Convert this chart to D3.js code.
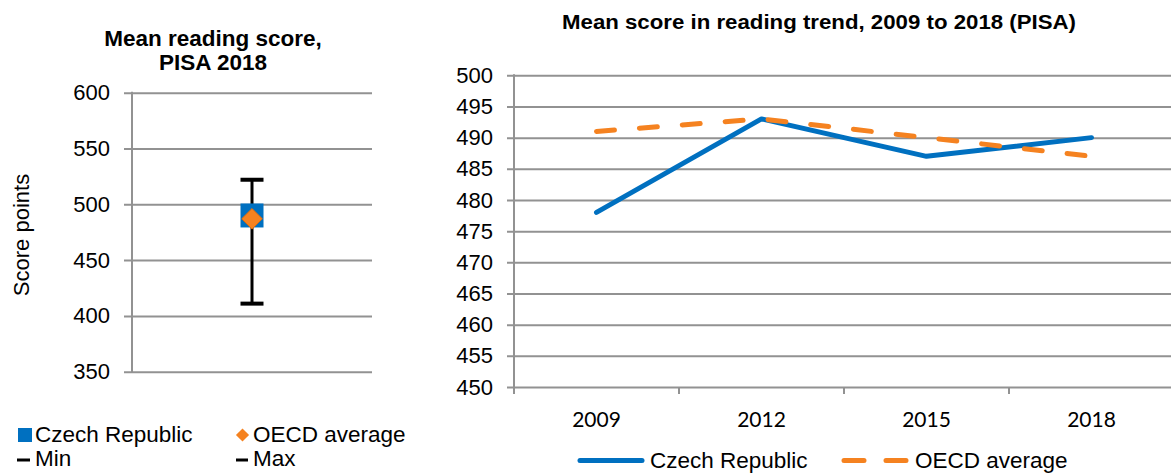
<!DOCTYPE html>
<html>
<head>
<meta charset="utf-8">
<script src="https://cdn.jsdelivr.net/npm/d3@7"></script>
<style>
  body { margin: 0; background: #fff; }
  text { font-family: "Liberation Sans", Arial, sans-serif; fill: #000; }
  .tick text { font-size: 22px; }
</style>
</head>
<body>
<svg id="vis" width="1171" height="473"></svg>
<script>
// data
var pisaLabel = ["2018"];
var czech2018 = [490];
var oecd2018 = [487];
var minScore = [411];
var maxScore = [522];
var leftTicks = [350, 400, 450, 500, 550, 600];

var years = ["2009", "2012", "2015", "2018"];
var czechTrend = [478, 493, 487, 490];
var oecdTrend = [491, 493, 490, 487];
var rightTicks = [450, 455, 460, 465, 470, 475, 480, 485, 490, 495, 500];

var blue = "#0070C0",
    orange = "#F58220",
    grid = "#929292";

var svg = d3.select("#vis");

// ---------------- left panel ----------------
var l = {x0: 132, x1: 372, gridLeft: 124, top: 92.7, bottom: 371.7};

var lx = d3.scaleBand().domain(pisaLabel).range([l.x0, l.x1]);
var ly = d3.scaleLinear().domain([350, 600]).range([l.bottom, l.top]);

svg.append("text")
    .attr("x", 213).attr("y", 46)
    .attr("text-anchor", "middle")
    .style("font-size", "22.5px").style("font-weight", "bold")
    .text("Mean reading score,");
svg.append("text")
    .attr("x", 213).attr("y", 70)
    .attr("text-anchor", "middle")
    .style("font-size", "22.5px").style("font-weight", "bold")
    .text("PISA 2018");

var lAxis = svg.append("g")
    .attr("transform", "translate(" + l.gridLeft + ",0)")
    .call(d3.axisLeft(ly).tickValues(leftTicks)
        .tickSizeInner(-(l.x1 - l.gridLeft)).tickSizeOuter(0).tickPadding(14));
lAxis.select(".domain").remove();
lAxis.selectAll(".tick line").attr("stroke", grid).attr("stroke-width", 2);

svg.append("line")
    .attr("x1", l.x0).attr("x2", l.x0)
    .attr("y1", ly(600) - 1).attr("y2", ly(350) + 1)
    .attr("stroke", grid).attr("stroke-width", 2);

svg.append("text")
    .attr("transform", "translate(29,235) rotate(-90)")
    .attr("text-anchor", "middle")
    .style("font-size", "22px")
    .text("Score points");

var cx = lx(pisaLabel[0]) + lx.bandwidth() / 2;

// whisker min-max
svg.append("line")
    .attr("x1", cx).attr("x2", cx)
    .attr("y1", ly(minScore[0])).attr("y2", ly(maxScore[0]))
    .attr("stroke", "#000").attr("stroke-width", 3);
[minScore[0], maxScore[0]].forEach(function(v) {
    svg.append("line")
        .attr("x1", cx - 11.5).attr("x2", cx + 11.5)
        .attr("y1", ly(v)).attr("y2", ly(v))
        .attr("stroke", "#000").attr("stroke-width", 4);
});

svg.append("rect")
    .attr("x", cx - 11.5).attr("y", ly(czech2018[0]) - 12)
    .attr("width", 23).attr("height", 24)
    .attr("fill", blue);

var diamond = d3.symbol().type(d3.symbolDiamond2).size(270);
svg.append("path")
    .attr("d", diamond())
    .attr("transform", "translate(" + cx + "," + ly(oecd2018[0]) + ")")
    .attr("fill", orange).attr("stroke", "#E46C0A").attr("stroke-width", 1);

// left legend
svg.append("rect").attr("x", 18).attr("y", 428).attr("width", 14).attr("height", 14).attr("fill", blue);
svg.append("text").attr("x", 35).attr("y", 442).style("font-size", "22.5px").text("Czech Republic");
svg.append("path")
    .attr("d", d3.symbol().type(d3.symbolDiamond2).size(110)())
    .attr("transform", "translate(242.5,435)")
    .attr("fill", orange);
svg.append("text").attr("x", 253).attr("y", 442).style("font-size", "22.5px").text("OECD average");
svg.append("line").attr("x1", 17).attr("x2", 30).attr("y1", 460).attr("y2", 460)
    .attr("stroke", "#000").attr("stroke-width", 3);
svg.append("text").attr("x", 35).attr("y", 466).style("font-size", "22.5px").text("Min");
svg.append("line").attr("x1", 236).attr("x2", 248).attr("y1", 460).attr("y2", 460)
    .attr("stroke", "#000").attr("stroke-width", 3);
svg.append("text").attr("x", 253).attr("y", 466).style("font-size", "22.5px").text("Max");

// ---------------- right panel ----------------
var r = {x0: 514, x1: 1174, gridLeft: 507, top: 75.3, bottom: 387};

var rx = d3.scaleBand().domain(years).range([r.x0, r.x1]);
var ry = d3.scaleLinear().domain([450, 500]).range([r.bottom, r.top]);

svg.append("text")
    .attr("x", 819).attr("y", 29)
    .attr("text-anchor", "middle")
    .attr("textLength", 514).attr("lengthAdjust", "spacingAndGlyphs")
    .style("font-size", "20px").style("font-weight", "bold")
    .text("Mean score in reading trend, 2009 to 2018 (PISA)");

var rAxis = svg.append("g")
    .attr("transform", "translate(" + r.gridLeft + ",0)")
    .call(d3.axisLeft(ry).tickValues(rightTicks)
        .tickSizeInner(-(1171 - r.gridLeft)).tickSizeOuter(0).tickPadding(14));
rAxis.select(".domain").remove();
rAxis.selectAll(".tick line").attr("stroke", grid).attr("stroke-width", 2);

svg.append("line")
    .attr("x1", r.x0).attr("x2", r.x0)
    .attr("y1", ry(500) - 1).attr("y2", ry(450) + 1)
    .attr("stroke", grid).attr("stroke-width", 2);

// category tick marks on band boundaries
var bounds = years.map(function(d) { return rx(d); }).concat([rx.range()[1]]);
svg.selectAll("line.xtick")
    .data(bounds).enter().append("line")
    .attr("class", "xtick")
    .attr("x1", function(d) { return d; }).attr("x2", function(d) { return d; })
    .attr("y1", ry(450)).attr("y2", ry(450) + 7)
    .attr("stroke", grid).attr("stroke-width", 2);

var xAxis = svg.append("g")
    .attr("transform", "translate(0," + ry(450) + ")")
    .call(d3.axisBottom(rx).tickSize(0).tickPadding(25));
xAxis.select(".domain").remove();
xAxis.selectAll(".tick text").style("font-family", "Lato, 'Liberation Sans', sans-serif").style("font-size", "21px");

var line = d3.line()
    .x(function(d, i) { return rx(years[i]) + rx.bandwidth() / 2; })
    .y(function(d) { return ry(d); });

svg.append("path")
    .datum(czechTrend)
    .attr("d", line)
    .attr("fill", "none").attr("stroke", blue)
    .attr("stroke-width", 5).attr("stroke-linejoin", "round").attr("stroke-linecap", "round");

svg.append("path")
    .datum(oecdTrend)
    .attr("d", line)
    .attr("fill", "none").attr("stroke", orange)
    .attr("stroke-width", 5).attr("stroke-linecap", "round")
    .attr("stroke-dasharray", "18,25");

// right legend
svg.append("line").attr("x1", 580).attr("x2", 642).attr("y1", 460.5).attr("y2", 460.5)
    .attr("stroke", blue).attr("stroke-width", 5).attr("stroke-linecap", "round");
svg.append("text").attr("x", 650).attr("y", 468).style("font-size", "22.5px").text("Czech Republic");
svg.append("line").attr("x1", 844).attr("x2", 907).attr("y1", 460.5).attr("y2", 460.5)
    .attr("stroke", orange).attr("stroke-width", 5).attr("stroke-linecap", "round")
    .attr("stroke-dasharray", "20,22");
svg.append("text").attr("x", 915).attr("y", 468).style("font-size", "22.5px").text("OECD average");
</script>
</body>
</html>
